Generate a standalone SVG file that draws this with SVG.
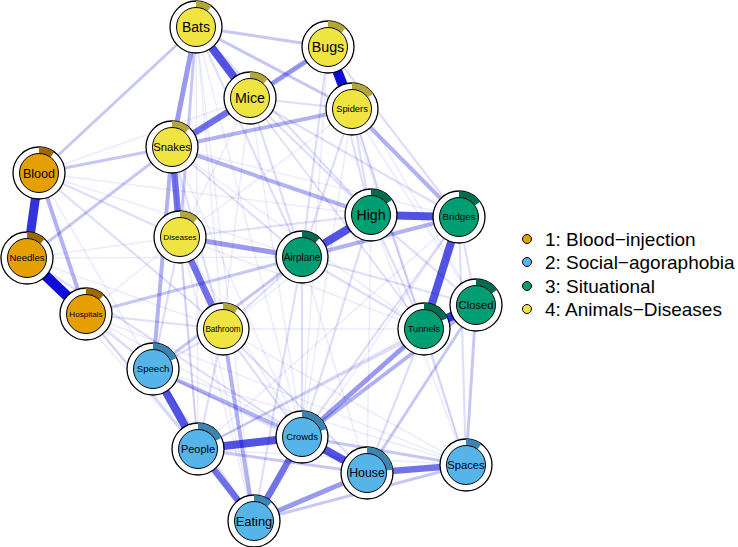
<svg xmlns="http://www.w3.org/2000/svg" xmlns:xlink="http://www.w3.org/1999/xlink" width="738" height="547" viewBox="0 0 738 547">
<style>
#edges line{stroke:#0000D5;stroke-linecap:butt;fill:none}
.w1{stroke-width:1.5;stroke-opacity:.08}
.w2{stroke-width:2.2;stroke-opacity:.13}
.w3{stroke-width:3;stroke-opacity:.22}
.w4{stroke-width:4;stroke-opacity:.3}
.w5{stroke-width:5;stroke-opacity:.4}
.w6{stroke-width:6.5;stroke-opacity:.55}
.w7{stroke-width:8;stroke-opacity:.68}
.w8{stroke-width:9;stroke-opacity:.8}
.w9{stroke-width:10;stroke-opacity:.95}
.ring{fill:#fff;stroke:#000;stroke-width:1.3}
.core{stroke:#000;stroke-width:1}
.pie{stroke:none}
.A{fill:#E69F00}.Ap{fill:#9C6A00}
.S{fill:#56B4E9}.Sp{fill:#3B85AE}
.T{fill:#009E73}.Tp{fill:#006B4E}
.D{fill:#F0E442}.Dp{fill:#B3A63A}
text{font-family:"Liberation Sans",Arial,sans-serif;fill:#000;text-anchor:middle}
.lg{font-size:19px;text-anchor:start}
</style>
<defs>
<path id="p10" d="M0,-26A26,26 0 0 1 15.28,-21.03L11.46,-15.78A19.5,19.5 0 0 0 0,-19.5Z"/>
<path id="p12" d="M0,-26A26,26 0 0 1 17.81,-18.95L13.36,-14.21A19.5,19.5 0 0 0 0,-19.5Z"/>
<path id="p15" d="M0,-26A26,26 0 0 1 21.03,-15.28L15.78,-11.46A19.5,19.5 0 0 0 0,-19.5Z"/>
<path id="p18" d="M0,-26A26,26 0 0 1 23.53,-11.07L17.65,-8.30A19.5,19.5 0 0 0 0,-19.5Z"/>
<path id="p20" d="M0,-26A26,26 0 0 1 24.73,-8.03L18.55,-6.03A19.5,19.5 0 0 0 0,-19.5Z"/>
<path id="p23" d="M0,-26A26,26 0 0 1 25.80,-3.26L19.35,-2.44A19.5,19.5 0 0 0 0,-19.5Z"/>
</defs>
<rect width="738" height="547" fill="#fff"/>
<g id="edges">
<!-- faint -->
<line class="w1" x1="196" y1="27" x2="223" y2="329"/>
<line class="w1" x1="196" y1="27" x2="198" y2="449"/>
<line class="w1" x1="250" y1="98" x2="180" y2="237"/>
<line class="w1" x1="250" y1="98" x2="223" y2="329"/>
<line class="w1" x1="250" y1="98" x2="302" y2="437"/>
<line class="w1" x1="328" y1="47" x2="172" y2="147"/>
<line class="w1" x1="328" y1="47" x2="424" y2="329"/>
<line class="w1" x1="328" y1="47" x2="302" y2="437"/>
<line class="w1" x1="352" y1="109" x2="180" y2="237"/>
<line class="w1" x1="352" y1="109" x2="476" y2="305"/>
<line class="w1" x1="352" y1="109" x2="302" y2="437"/>
<line class="w1" x1="352" y1="109" x2="466" y2="465"/>
<line class="w1" x1="172" y1="147" x2="459" y2="217"/>
<line class="w1" x1="172" y1="147" x2="302" y2="437"/>
<line class="w1" x1="172" y1="147" x2="254" y2="521"/>
<line class="w1" x1="180" y1="237" x2="198" y2="449"/>
<line class="w1" x1="180" y1="237" x2="302" y2="437"/>
<line class="w1" x1="180" y1="237" x2="424" y2="329"/>
<line class="w1" x1="180" y1="237" x2="254" y2="521"/>
<line class="w1" x1="223" y1="329" x2="424" y2="329"/>
<line class="w1" x1="223" y1="329" x2="466" y2="465"/>
<line class="w1" x1="302" y1="257" x2="367" y2="473"/>
<line class="w1" x1="371" y1="215" x2="367" y2="473"/>
<line class="w1" x1="371" y1="215" x2="466" y2="465"/>
<line class="w1" x1="27" y1="258" x2="153" y2="369"/>
<line class="w1" x1="27" y1="258" x2="198" y2="449"/>
<line class="w1" x1="27" y1="258" x2="223" y2="329"/>
<line class="w1" x1="39" y1="173" x2="302" y2="257"/>
<line class="w1" x1="39" y1="173" x2="371" y2="215"/>
<line class="w1" x1="86" y1="314" x2="302" y2="437"/>
<line class="w1" x1="86" y1="314" x2="180" y2="237"/>
<line class="w1" x1="27" y1="258" x2="180" y2="237"/>
<line class="w1" x1="39" y1="173" x2="153" y2="369"/>
<line class="w1" x1="39" y1="173" x2="250" y2="98"/>
<line class="w1" x1="27" y1="258" x2="302" y2="257"/>
<line class="w1" x1="86" y1="314" x2="254" y2="521"/>
<line class="w1" x1="223" y1="329" x2="371" y2="215"/>
<line class="w1" x1="172" y1="147" x2="424" y2="329"/>
<line class="w1" x1="196" y1="27" x2="424" y2="329"/>
<line class="w1" x1="250" y1="98" x2="424" y2="329"/>
<line class="w1" x1="328" y1="47" x2="476" y2="305"/>
<line class="w1" x1="196" y1="27" x2="302" y2="437"/>
<line class="w1" x1="196" y1="27" x2="254" y2="521"/>
<line class="w1" x1="153" y1="369" x2="466" y2="465"/>
<line class="w1" x1="198" y1="449" x2="466" y2="465"/>
<line class="w1" x1="86" y1="314" x2="466" y2="465"/>
<line class="w1" x1="459" y1="217" x2="198" y2="449"/>
<line class="w1" x1="459" y1="217" x2="254" y2="521"/>
<!-- light -->
<line class="w2" x1="196" y1="27" x2="302" y2="257"/>
<line class="w2" x1="196" y1="27" x2="371" y2="215"/>
<line class="w2" x1="250" y1="98" x2="371" y2="215"/>
<line class="w2" x1="250" y1="98" x2="302" y2="257"/>
<line class="w2" x1="328" y1="47" x2="371" y2="215"/>
<line class="w2" x1="328" y1="47" x2="302" y2="257"/>
<line class="w2" x1="328" y1="47" x2="459" y2="217"/>
<line class="w2" x1="352" y1="109" x2="371" y2="215"/>
<line class="w2" x1="352" y1="109" x2="302" y2="257"/>
<line class="w2" x1="352" y1="109" x2="424" y2="329"/>
<line class="w2" x1="172" y1="147" x2="302" y2="257"/>
<line class="w2" x1="172" y1="147" x2="223" y2="329"/>
<line class="w2" x1="180" y1="237" x2="371" y2="215"/>
<line class="w2" x1="223" y1="329" x2="153" y2="369"/>
<line class="w2" x1="223" y1="329" x2="198" y2="449"/>
<line class="w2" x1="223" y1="329" x2="302" y2="437"/>
<line class="w2" x1="223" y1="329" x2="302" y2="257"/>
<line class="w2" x1="223" y1="329" x2="367" y2="473"/>
<line class="w2" x1="302" y1="257" x2="424" y2="329"/>
<line class="w2" x1="302" y1="257" x2="476" y2="305"/>
<line class="w2" x1="302" y1="257" x2="302" y2="437"/>
<line class="w2" x1="302" y1="257" x2="254" y2="521"/>
<line class="w2" x1="371" y1="215" x2="424" y2="329"/>
<line class="w2" x1="371" y1="215" x2="476" y2="305"/>
<line class="w2" x1="371" y1="215" x2="302" y2="437"/>
<line class="w2" x1="459" y1="217" x2="476" y2="305"/>
<line class="w2" x1="459" y1="217" x2="302" y2="437"/>
<line class="w2" x1="459" y1="217" x2="466" y2="465"/>
<line class="w2" x1="424" y1="329" x2="367" y2="473"/>
<line class="w2" x1="424" y1="329" x2="466" y2="465"/>
<line class="w2" x1="424" y1="329" x2="198" y2="449"/>
<line class="w2" x1="476" y1="305" x2="198" y2="449"/>
<line class="w2" x1="153" y1="369" x2="254" y2="521"/>
<line class="w2" x1="153" y1="369" x2="367" y2="473"/>
<line class="w2" x1="86" y1="314" x2="153" y2="369"/>
<line class="w2" x1="86" y1="314" x2="198" y2="449"/>
<line class="w2" x1="86" y1="314" x2="223" y2="329"/>
<line class="w2" x1="180" y1="237" x2="153" y2="369"/>
<line class="w2" x1="39" y1="173" x2="180" y2="237"/>
<line class="w2" x1="250" y1="98" x2="352" y2="109"/>
<line class="w2" x1="172" y1="147" x2="198" y2="449"/>
<line class="w2" x1="39" y1="173" x2="223" y2="329"/>
<line class="w2" x1="27" y1="258" x2="302" y2="437"/>
<line class="w2" x1="250" y1="98" x2="459" y2="217"/>
<!-- medium-light -->
<line class="w3" x1="476" y1="305" x2="367" y2="473"/>
<line class="w3" x1="476" y1="305" x2="466" y2="465"/>
<line class="w3" x1="302" y1="437" x2="466" y2="465"/>
<line class="w3" x1="86" y1="314" x2="302" y2="257"/>
<line class="w3" x1="27" y1="258" x2="172" y2="147"/>
<line class="w3" x1="39" y1="173" x2="196" y2="27"/>
<line class="w3" x1="39" y1="173" x2="172" y2="147"/>
<line class="w3" x1="196" y1="27" x2="328" y2="47"/>
<line class="w3" x1="196" y1="27" x2="352" y2="109"/>
<line class="w3" x1="196" y1="27" x2="180" y2="237"/>
<line class="w3" x1="302" y1="257" x2="153" y2="369"/>
<line class="w3" x1="254" y1="521" x2="466" y2="465"/>
<line class="w3" x1="198" y1="449" x2="367" y2="473"/>
<!-- medium -->
<line class="w4" x1="172" y1="147" x2="371" y2="215"/>
<line class="w4" x1="352" y1="109" x2="459" y2="217"/>
<line class="w4" x1="172" y1="147" x2="352" y2="109"/>
<line class="w4" x1="39" y1="173" x2="86" y2="314"/>
<line class="w4" x1="172" y1="147" x2="153" y2="369"/>
<line class="w4" x1="223" y1="329" x2="254" y2="521"/>
<line class="w4" x1="153" y1="369" x2="302" y2="437"/>
<line class="w4" x1="302" y1="257" x2="459" y2="217"/>
<line class="w4" x1="476" y1="305" x2="302" y2="437"/>
<line class="w5" x1="196" y1="27" x2="172" y2="147"/>
<line class="w5" x1="250" y1="98" x2="328" y2="47"/>
<line class="w5" x1="424" y1="329" x2="302" y2="437"/>
<line class="w5" x1="254" y1="521" x2="367" y2="473"/>
<line class="w5" x1="180" y1="237" x2="302" y2="257"/>
<!-- strong -->
<line class="w6" x1="250" y1="98" x2="172" y2="147"/>
<line class="w6" x1="198" y1="449" x2="254" y2="521"/>
<line class="w6" x1="302" y1="437" x2="254" y2="521"/>
<line class="w6" x1="367" y1="473" x2="466" y2="465"/>
<line class="w6" x1="180" y1="237" x2="223" y2="329"/>
<line class="w6" x1="172" y1="147" x2="180" y2="237"/>
<line class="w7" x1="371" y1="215" x2="459" y2="217"/>
<line class="w7" x1="459" y1="217" x2="424" y2="329"/>
<line class="w7" x1="302" y1="257" x2="371" y2="215"/>
<line class="w7" x1="196" y1="27" x2="250" y2="98"/>
<line class="w7" x1="302" y1="437" x2="367" y2="473"/>
<line class="w7" x1="198" y1="449" x2="302" y2="437"/>
<line class="w7" x1="153" y1="369" x2="198" y2="449"/>
<line class="w8" x1="39" y1="173" x2="27" y2="258"/>
<line class="w8" x1="424" y1="329" x2="476" y2="305"/>
<line class="w9" x1="328" y1="47" x2="352" y2="109"/>
<line class="w9" x1="27" y1="258" x2="86" y2="314"/>
</g>
<g id="node-Blood" transform="translate(39,173)"><circle class="ring" r="26"/><use xlink:href="#p10" class="pie Ap"/><circle class="core A" r="19.5"/><text y="4.5" font-size="12.6">Blood</text></g>
<g id="node-Needles" transform="translate(27,258)"><circle class="ring" r="26"/><use xlink:href="#p12" class="pie Ap"/><circle class="core A" r="19.5"/><text y="3.4" font-size="9.6">Needles</text></g>
<g id="node-Hospitals" transform="translate(86,314)"><circle class="ring" r="26"/><use xlink:href="#p12" class="pie Ap"/><circle class="core A" r="19.5"/><text y="2.9" font-size="8.1">Hospitals</text></g>
<g id="node-Bats" transform="translate(196,27)"><circle class="ring" r="26"/><use xlink:href="#p10" class="pie Dp"/><circle class="core D" r="19.5"/><text y="5" font-size="14">Bats</text></g>
<g id="node-Bugs" transform="translate(328,47)"><circle class="ring" r="26"/><use xlink:href="#p12" class="pie Dp"/><circle class="core D" r="19.5"/><text y="5" font-size="14.2">Bugs</text></g>
<g id="node-Mice" transform="translate(250,98)"><circle class="ring" r="26"/><use xlink:href="#p12" class="pie Dp"/><circle class="core D" r="19.5"/><text y="5" font-size="14.2">Mice</text></g>
<g id="node-Spiders" transform="translate(352,109)"><circle class="ring" r="26"/><use xlink:href="#p15" class="pie Dp"/><circle class="core D" r="19.5"/><text y="3.3" font-size="9.35">Spiders</text></g>
<g id="node-Snakes" transform="translate(172,147)"><circle class="ring" r="26"/><use xlink:href="#p12" class="pie Dp"/><circle class="core D" r="19.5"/><text y="4" font-size="11.3">Snakes</text></g>
<g id="node-Diseases" transform="translate(180,237)"><circle class="ring" r="26"/><use xlink:href="#p12" class="pie Dp"/><circle class="core D" r="19.5"/><text y="2.9" font-size="8.1">Diseases</text></g>
<g id="node-Bathroom" transform="translate(223,329)"><circle class="ring" r="26"/><use xlink:href="#p10" class="pie Dp"/><circle class="core D" r="19.5"/><text y="2.9" font-size="8.15">Bathroom</text></g>
<g id="node-Airplane" transform="translate(302,257)"><circle class="ring" r="26"/><use xlink:href="#p12" class="pie Tp"/><circle class="core T" r="19.5"/><text y="3.5" font-size="10">Airplane</text></g>
<g id="node-High" transform="translate(371,215)"><circle class="ring" r="26"/><use xlink:href="#p15" class="pie Tp"/><circle class="core T" r="19.5"/><text y="5" font-size="14.1">High</text></g>
<g id="node-Bridges" transform="translate(459,217)"><circle class="ring" r="26"/><use xlink:href="#p15" class="pie Tp"/><circle class="core T" r="19.5"/><text y="3.4" font-size="9.7">Bridges</text></g>
<g id="node-Tunnels" transform="translate(424,329)"><circle class="ring" r="26"/><use xlink:href="#p18" class="pie Tp"/><circle class="core T" r="19.5"/><text y="3.3" font-size="9.2">Tunnels</text></g>
<g id="node-Closed" transform="translate(476,305)"><circle class="ring" r="26"/><use xlink:href="#p15" class="pie Tp"/><circle class="core T" r="19.5"/><text y="4" font-size="11.2">Closed</text></g>
<g id="node-Speech" transform="translate(153,369)"><circle class="ring" r="26"/><use xlink:href="#p18" class="pie Sp"/><circle class="core S" r="19.5"/><text y="3.4" font-size="9.6">Speech</text></g>
<g id="node-People" transform="translate(198,449)"><circle class="ring" r="26"/><use xlink:href="#p18" class="pie Sp"/><circle class="core S" r="19.5"/><text y="3.9" font-size="10.9">People</text></g>
<g id="node-Crowds" transform="translate(302,437)"><circle class="ring" r="26"/><use xlink:href="#p20" class="pie Sp"/><circle class="core S" r="19.5"/><text y="3.3" font-size="9.35">Crowds</text></g>
<g id="node-Eating" transform="translate(254,521)"><circle class="ring" r="26"/><use xlink:href="#p12" class="pie Sp"/><circle class="core S" r="19.5"/><text y="4.6" font-size="12.9">Eating</text></g>
<g id="node-House" transform="translate(367,473)"><circle class="ring" r="26"/><use xlink:href="#p23" class="pie Sp"/><circle class="core S" r="19.5"/><text y="4.4" font-size="12.3">House</text></g>
<g id="node-Spaces" transform="translate(466,465)"><circle class="ring" r="26"/><use xlink:href="#p10" class="pie Sp"/><circle class="core S" r="19.5"/><text y="4" font-size="11.2">Spaces</text></g>
<g id="legend">
<circle cx="527" cy="239" r="4.5" class="core A"/><text class="lg" x="545" y="245.5">1: Blood−injection</text>
<circle cx="527" cy="262" r="4.5" class="core S"/><text class="lg" x="545" y="268.5">2: Social−agoraphobia</text>
<circle cx="527" cy="286" r="4.5" class="core T"/><text class="lg" x="545" y="292.5">3: Situational</text>
<circle cx="527" cy="309" r="4.5" class="core D"/><text class="lg" x="545" y="315.5">4: Animals−Diseases</text>
</g>
</svg>
